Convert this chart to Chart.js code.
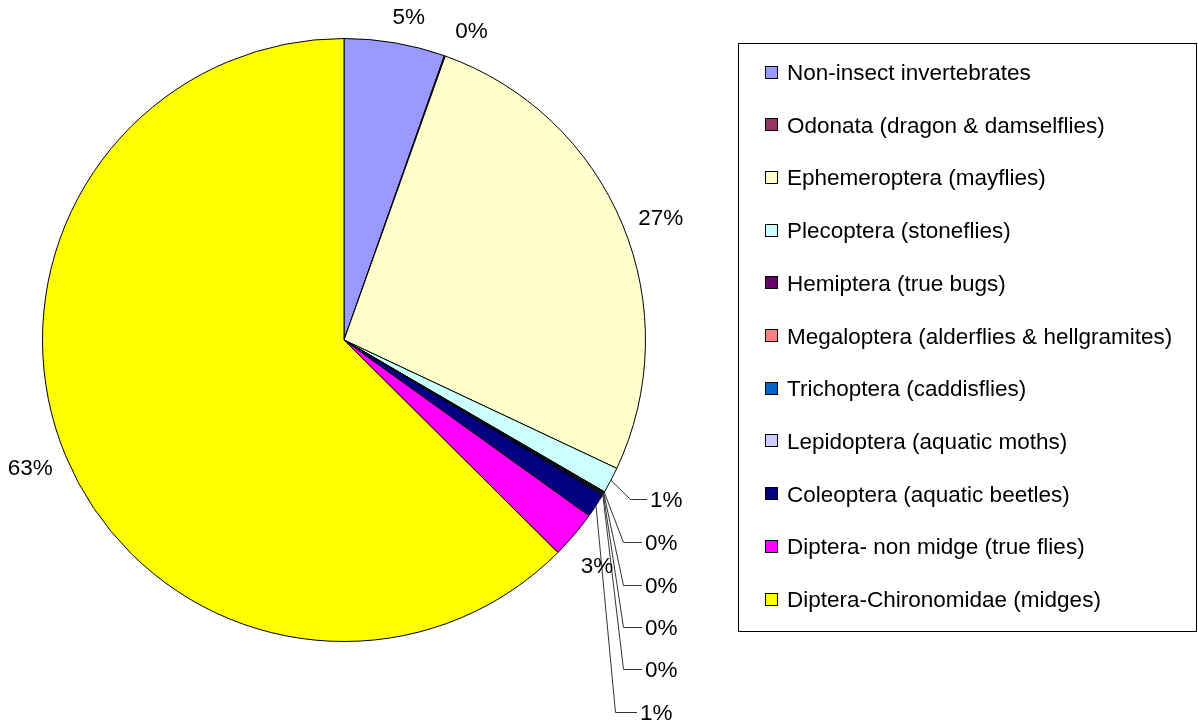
<!DOCTYPE html>
<html><head><meta charset="utf-8">
<script src="https://cdn.jsdelivr.net/npm/chart.js@4"></script>
<style>html,body{margin:0;padding:0;background:#fff;} canvas{display:block;}</style>
</head><body>
<canvas id="c" width="1198" height="723"></canvas>
<script>
// ---- data ----
const categories = [
  "Non-insect invertebrates",
  "Odonata (dragon & damselflies)",
  "Ephemeroptera (mayflies)",
  "Plecoptera (stoneflies)",
  "Hemiptera (true bugs)",
  "Megaloptera (alderflies & hellgramites)",
  "Trichoptera (caddisflies)",
  "Lepidoptera (aquatic moths)",
  "Coleoptera (aquatic beetles)",
  "Diptera- non midge (true flies)",
  "Diptera-Chironomidae (midges)"
];
const shares = [5.4, 0.05, 26.55, 1.4, 0.05, 0.05, 0.05, 0.05, 1.3, 2.55, 62.55];
const sliceColors = ["#9999FF","#993366","#FFFFCC","#CCFFFF","#660066","#FF8080","#0066CC","#CCCCFF","#000080","#FF00FF","#FFFF00"];

// ---- layout (label placement only) ----
const FONT = '22.5px "Liberation Sans", Arial, sans-serif';
const labelNudge = {0:[8,0],1:[15,0],2:[0,3],9:[-4,13],10:[3,1]};
// leader label elbows, relative to pie centre: [dx, dy, horizontal length]
const leaderLayout = {3:[286,159,17],4:[279,202,19],5:[279,245,19],6:[279,287,19],7:[279,329,19],8:[271,372,22]};

const total = shares.reduce((a,b)=>a+b,0);
const pctText = v => Math.round(v/total*100) + '%';

const labelPlugin = {
  id:'pieLabels',
  afterDatasetsDraw(chart){
    const ctx = chart.ctx;
    const meta = chart.getDatasetMeta(0);
    ctx.save();
    ctx.font = FONT;
    ctx.fillStyle = '#000';
    const capH = 16;
    meta.data.forEach((arc,i)=>{
      const p = arc.getProps(['x','y','startAngle','endAngle','outerRadius'], true);
      const m = (p.startAngle + p.endAngle)/2;
      const ex = p.x + p.outerRadius*Math.cos(m);
      const ey = p.y + p.outerRadius*Math.sin(m);
      const txt = pctText(shares[i]);
      if (leaderLayout[i]) {
        const [dx,dy,len] = leaderLayout[i];
        const bx = p.x + dx, by = p.y + dy;
        ctx.beginPath();
        ctx.strokeStyle = '#333';
        ctx.lineWidth = 1;
        ctx.moveTo(ex, ey);
        ctx.lineTo(bx + 0.5, by + 0.5);
        ctx.lineTo(bx + len, by + 0.5);
        ctx.stroke();
        ctx.textAlign = 'left';
        ctx.textBaseline = 'alphabetic';
        ctx.fillText(txt, bx + len + 3, by + capH/2);
      } else {
        const w = ctx.measureText(txt).width;
        const g = 19;
        let cx = ex + (g + w/2)*Math.cos(m);
        let cy = ey + (g + capH/2)*Math.sin(m);
        const n = labelNudge[i] || [0,0];
        cx += n[0]; cy += n[1];
        ctx.textAlign = 'center';
        ctx.textBaseline = 'alphabetic';
        ctx.fillText(txt, cx, cy + capH/2);
      }
    });
    // legend
    const L = 738.5, T = 43.5, W = 458, H = 588;
    ctx.strokeStyle = '#000';
    ctx.lineWidth = 1;
    ctx.strokeRect(L, T, W, H);
    const labels = chart.data.labels;
    const cols = chart.data.datasets[0].backgroundColor;
    labels.forEach((lab, i)=>{
      const yc = 72 + i*52.7;
      const sx = 765, sz = 13;
      ctx.fillStyle = cols[i];
      ctx.fillRect(sx, Math.round(yc - sz/2), sz, sz);
      ctx.strokeStyle = '#000';
      ctx.strokeRect(sx + 0.5, Math.round(yc - sz/2) + 0.5, sz - 1, sz - 1);
      ctx.fillStyle = '#000';
      ctx.textAlign = 'left';
      ctx.textBaseline = 'alphabetic';
      ctx.fillText(lab, 787, yc + capH/2);
    });
    ctx.restore();
  }
};

new Chart(document.getElementById('c'), {
  type:'pie',
  data:{
    labels: categories,
    datasets:[{
      data: shares,
      backgroundColor: sliceColors,
      borderColor:'#000',
      borderWidth:1,
      hoverOffset:0,
      offset:0
    }]
  },
  options:{
    responsive:false,
    devicePixelRatio:1,
    animation:false,
    layout:{padding:{left:42, top:38, right:552, bottom:81}},
    plugins:{legend:{display:false}, tooltip:{enabled:false}}
  },
  plugins:[labelPlugin]
});
</script>
</body></html>
